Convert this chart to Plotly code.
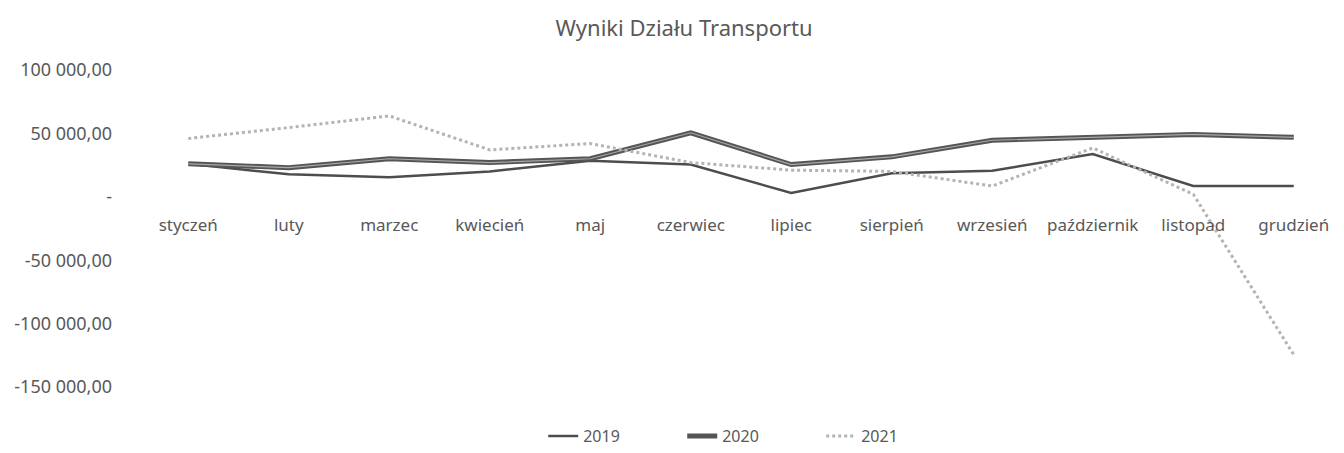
import plotly.graph_objects as go

months = ['styczeń', 'luty', 'marzec', 'kwiecień', 'maj', 'czerwiec', 'lipiec',
          'sierpień', 'wrzesień', 'październik', 'listopad', 'grudzień']

y2019 = [26000, 17700, 15400, 20000, 28500, 25400, 3000, 18500, 20500, 33800, 8500, 8500]
y2020 = [26000, 23000, 30000, 27000, 30000, 50500, 25400, 31500, 44600, 46900, 49200, 46900]
y2021 = [46000, 54600, 63800, 37000, 42000, 27000, 21000, 20000, 8500, 38500, 2000, -124600]

tick_vals = [100000, 50000, 0, -50000, -100000, -150000]
tick_text = ['100 000,00', '50 000,00', '-', '-50 000,00', '-100 000,00', '-150 000,00']

fig = go.Figure()
fig.add_trace(go.Scatter(x=months, y=y2019, name='2019', mode='lines',
                         line=dict(color='#4d4d4d', width=2.5)))
fig.add_trace(go.Scatter(x=months, y=y2020, name='2020', mode='lines',
                         line=dict(color='#555555', width=5)))
# light centre of the double line
fig.add_trace(go.Scatter(x=months, y=y2020, mode='lines', showlegend=False, hoverinfo='skip',
                         line=dict(color='#a8a8a8', width=1.2)))
fig.add_trace(go.Scatter(x=months, y=y2021, name='2021', mode='lines',
                         line=dict(color='#b4b4b4', width=3, dash='dot')))

# page body has an 8px margin, so the figure is a bit smaller than the window
fig.update_layout(
    width=1336, height=445,
    paper_bgcolor='white', plot_bgcolor='white',
    font=dict(family='Noto Sans', color='#595959', size=17),
    title=dict(text='Wyniki Działu Transportu', x=0.506, xanchor='center',
               yref='container', y=0.955, yanchor='middle',
               font=dict(size=22, color='#595959')),
    margin=dict(t=62, b=59, l=130, r=0),
    showlegend=True,
    legend=dict(orientation='h', x=0.336, xanchor='left', y=-0.155, yanchor='middle',
                entrywidth=94, font=dict(size=16, color='#595959')),
    xaxis=dict(range=[-0.5, 11.5], showgrid=False, zeroline=False, showline=False,
               anchor='free', position=0.6, ticks='', ticklabelstandoff=16,
               tickfont=dict(size=17)),
    yaxis=dict(range=[-150000, 100000], tickvals=tick_vals, ticktext=tick_text,
               showgrid=False, zeroline=False, showline=False, ticks='',
               ticklabelstandoff=25, tickfont=dict(size=18)),
)

fig.write_html("out.html")
